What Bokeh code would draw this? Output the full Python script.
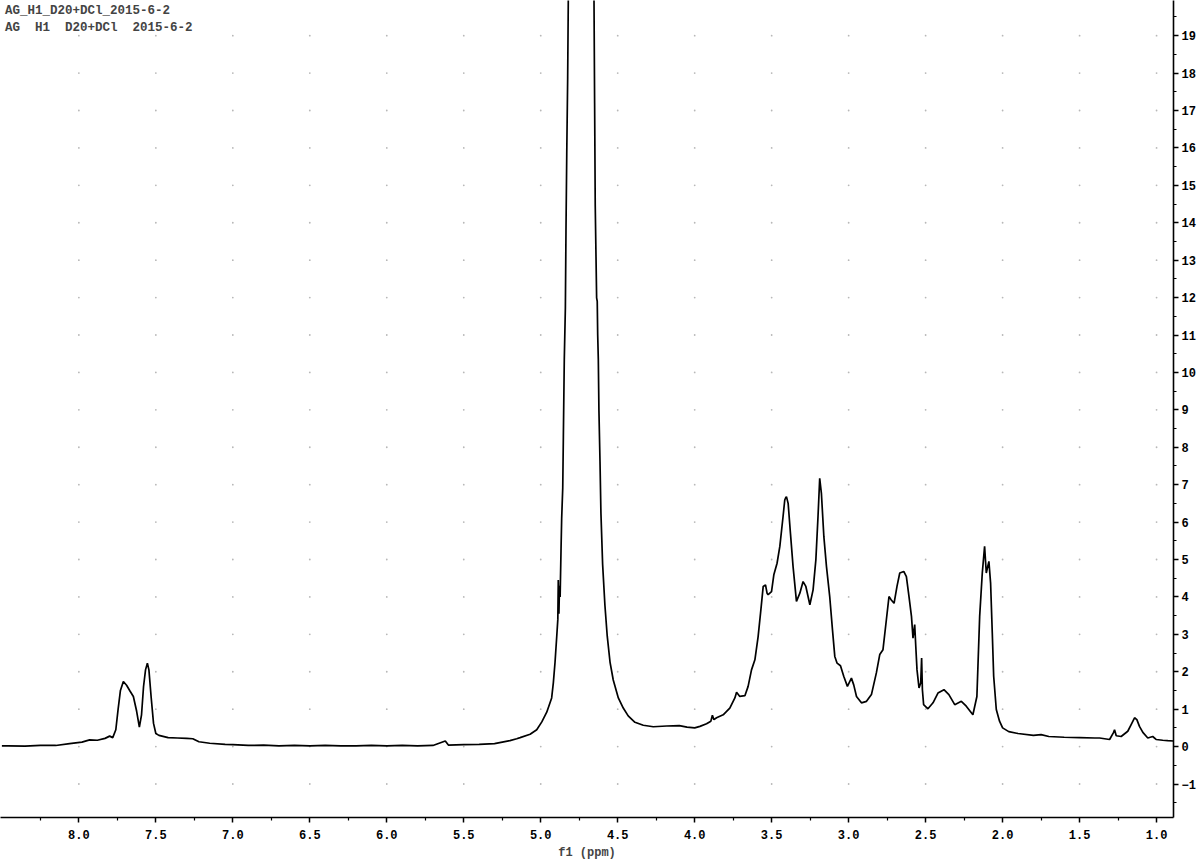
import numpy as np
from bokeh.plotting import figure
from bokeh.models import FixedTicker, Label, Range1d
from bokeh.embed import file_html
from bokeh.resources import INLINE

# Spectrum (ppm, intensity)
ppm = [8.50, 8.46, 8.35, 8.25, 8.15, 8.06, 7.98, 7.93, 7.88, 7.83, 7.80, 7.78, 7.76, 7.745, 7.73, 7.711,
       7.69, 7.67, 7.646, 7.625, 7.607, 7.593, 7.58, 7.567, 7.555, 7.545, 7.53, 7.515, 7.50, 7.48,
       7.42, 7.36, 7.30, 7.26, 7.22, 7.15, 7.05, 7.00, 6.90, 6.80, 6.70, 6.60, 6.50, 6.40, 6.30,
       6.20, 6.10, 6.00, 5.90, 5.80, 5.70, 5.62, 5.60, 5.50, 5.40, 5.30, 5.25, 5.20, 5.156, 5.134,
       5.069, 5.026, 4.993, 4.961, 4.929, 4.918, 4.907, 4.896, 4.889, 4.886, 4.882, 4.878, 4.874,
       4.868, 4.864, 4.857, 4.853, 4.847, 4.840, 4.836, 4.831, 4.825, 4.821, 4.80, 4.76, 4.72,
       4.68, 4.654, 4.650, 4.646, 4.641, 4.637, 4.633, 4.630, 4.626, 4.622, 4.615, 4.609, 4.598,
       4.583, 4.568, 4.550, 4.529, 4.496, 4.464, 4.432, 4.388, 4.334, 4.269, 4.182, 4.10, 4.05,
       4.00, 3.966, 3.923, 3.895, 3.885, 3.875, 3.858, 3.815, 3.772, 3.739, 3.728, 3.707, 3.674,
       3.653, 3.631, 3.609, 3.588, 3.570, 3.555, 3.540, 3.530, 3.523, 3.501, 3.486, 3.465, 3.447,
       3.426, 3.415, 3.409, 3.404, 3.393, 3.378, 3.361, 3.339, 3.317, 3.296, 3.278, 3.252, 3.231,
       3.213, 3.199, 3.188, 3.177, 3.161, 3.144, 3.123, 3.105, 3.090, 3.075, 3.053, 3.032, 3.008,
       2.982, 2.967, 2.949, 2.917, 2.884, 2.852, 2.820, 2.798, 2.777, 2.755, 2.738, 2.723, 2.705,
       2.686, 2.668, 2.642, 2.625, 2.608, 2.592, 2.582, 2.571, 2.564, 2.556, 2.543, 2.532, 2.526,
       2.521, 2.513, 2.485, 2.452, 2.420, 2.381, 2.349, 2.311, 2.268, 2.236, 2.193, 2.167, 2.149,
       2.132, 2.117, 2.106, 2.089, 2.078, 2.067, 2.058, 2.041, 2.020, 2.00, 1.96, 1.90, 1.80,
       1.75, 1.70, 1.60, 1.50, 1.40, 1.370, 1.305, 1.279, 1.273, 1.262, 1.230, 1.187, 1.165,
       1.143, 1.128, 1.111, 1.089, 1.057, 1.025, 1.003, 0.960, 0.927, 0.89]
intensity = [0.02, 0.02, 0.01, 0.03, 0.03, 0.08, 0.12, 0.18, 0.17, 0.22, 0.28, 0.24, 0.45, 1.0, 1.50, 1.74,
             1.64, 1.50, 1.34, 0.95, 0.52, 0.85, 1.60, 2.05, 2.23, 2.05, 1.30, 0.62, 0.35, 0.30,
             0.24, 0.23, 0.22, 0.21, 0.13, 0.09, 0.06, 0.05, 0.03, 0.04, 0.02, 0.03, 0.02, 0.03, 0.02,
             0.02, 0.03, 0.02, 0.03, 0.02, 0.03, 0.15, 0.04, 0.05, 0.06, 0.08, 0.12, 0.16, 0.21, 0.24,
             0.33, 0.45, 0.66, 0.92, 1.30, 1.71, 2.26, 2.95, 3.40, 4.45, 3.55, 4.30, 4.0,
             5.3, 6.10, 6.92, 8.29, 10.35, 11.72, 13.77, 15.83, 17.88, 19.94, 30.0, 45.0, 42.0,
             30.0, 19.94, 17.2, 14.46, 13.09, 11.99, 11.9, 11.0, 10.35, 8.98, 7.61, 6.24, 4.87,
             3.77, 2.95, 2.26, 1.78, 1.30, 1.03, 0.82, 0.65, 0.57, 0.53, 0.55, 0.56, 0.52,
             0.50, 0.54, 0.61, 0.68, 0.84, 0.72, 0.77, 0.85, 1.03, 1.30, 1.45, 1.34, 1.36,
             1.61, 2.05, 2.32, 2.94, 3.66, 4.28, 4.32, 4.10, 4.06, 4.14, 4.59, 4.90, 5.35,
             6.15, 6.59, 6.65, 6.68, 6.50, 5.70, 4.81, 3.88, 4.10, 4.41, 4.28, 3.79, 4.19,
             4.99, 6.15, 7.17, 6.77, 5.61, 4.81, 4.01, 3.12, 2.41, 2.23, 2.16, 1.88, 1.61,
             1.83, 1.65, 1.34, 1.17, 1.21, 1.39, 1.97, 2.46, 2.59, 3.39, 4.01, 3.92, 3.83,
             4.28, 4.64, 4.68, 4.54, 4.01, 3.48, 2.90, 3.26, 2.68, 2.05, 1.57, 1.70, 2.37,
             1.52, 1.12, 1.01, 1.17, 1.43, 1.52, 1.39, 1.12, 1.21, 1.08, 0.85, 1.34, 3.48,
             4.64, 5.35, 4.64, 4.95, 4.37, 3.03, 1.88, 0.99, 0.68, 0.50, 0.40, 0.35, 0.30,
             0.32, 0.27, 0.25, 0.24, 0.23, 0.23, 0.19, 0.38, 0.45, 0.29, 0.27, 0.41, 0.59,
             0.77, 0.72, 0.54, 0.38, 0.23, 0.27, 0.19, 0.17, 0.16, 0.15]

x_ticks = [8.0, 7.5, 7.0, 6.5, 6.0, 5.5, 5.0, 4.5, 4.0, 3.5, 3.0, 2.5, 2.0, 1.5, 1.0]
x_minor = [8.25, 7.75, 7.25, 6.75, 6.25, 5.75, 5.25, 4.75, 4.25, 3.75, 3.25, 2.75, 2.25, 1.75, 1.25]
y_ticks = list(range(-1, 20))
y_minor = [v + 0.5 for v in range(-2, 20)]
title_lines = ["AG_H1_D20+DCl_2015-6-2", "AG\u00a0\u00a0H1\u00a0\u00a0D20+DCl\u00a0\u00a02015-6-2"]

FONT = "Liberation Mono"

p = figure(width=1198, height=862,
           x_range=Range1d(8.509, 0.890), y_range=Range1d(-1.895, 19.94),
           y_axis_location="right", output_backend="svg", toolbar_location=None,
           min_border_left=0, min_border_top=0, min_border_right=24, min_border_bottom=44)
p.outline_line_color = None
p.grid.visible = False
p.background_fill_color = "white"

# grid dots at tick intersections
gx, gy = np.meshgrid(x_ticks, y_ticks)
p.scatter(gx.ravel(), gy.ravel(), size=1.8, color="#b8b8b8", line_color=None)

p.line(ppm, intensity, line_color="black", line_width=1.7)

for ax in (p.xaxis[0], p.yaxis[0]):
    ax.axis_line_color = "black"
    ax.axis_line_width = 1.6
    ax.major_tick_line_color = "black"
    ax.minor_tick_line_color = "black"
    ax.major_tick_line_width = 1.5
    ax.minor_tick_line_width = 1.2
    ax.major_tick_in = 0
    ax.minor_tick_in = 0
    ax.major_tick_out = 5
    ax.minor_tick_out = 3
    ax.major_label_text_font = FONT
    ax.major_label_text_font_style = "bold"
    ax.major_label_text_font_size = "12px"
    ax.major_label_text_color = "black"
    ax.major_label_standoff = 3

p.xaxis.ticker = FixedTicker(ticks=x_ticks, minor_ticks=x_minor)
p.yaxis.ticker = FixedTicker(ticks=y_ticks, minor_ticks=y_minor)
p.xaxis.major_label_overrides = {t: f"{t:.1f}" for t in x_ticks}
p.xaxis.axis_label = "f1 (ppm)"
p.xaxis.axis_label_text_font = FONT
p.xaxis.axis_label_text_font_style = "bold"
p.xaxis.axis_label_text_font_size = "12px"
p.xaxis.axis_label_standoff = 4
p.xaxis.major_label_standoff = 7

p.add_layout(Label(x=8.48, y=19.85, text=title_lines[0], text_font=FONT, text_font_style="bold",
                   text_font_size="12.5px", text_baseline="top", text_align="left"))
p.add_layout(Label(x=8.48, y=19.40, text=title_lines[1], text_font=FONT, text_font_style="bold",
                   text_font_size="12.5px", text_baseline="top", text_align="left"))

open("out.html", "w").write(file_html(p, INLINE))
